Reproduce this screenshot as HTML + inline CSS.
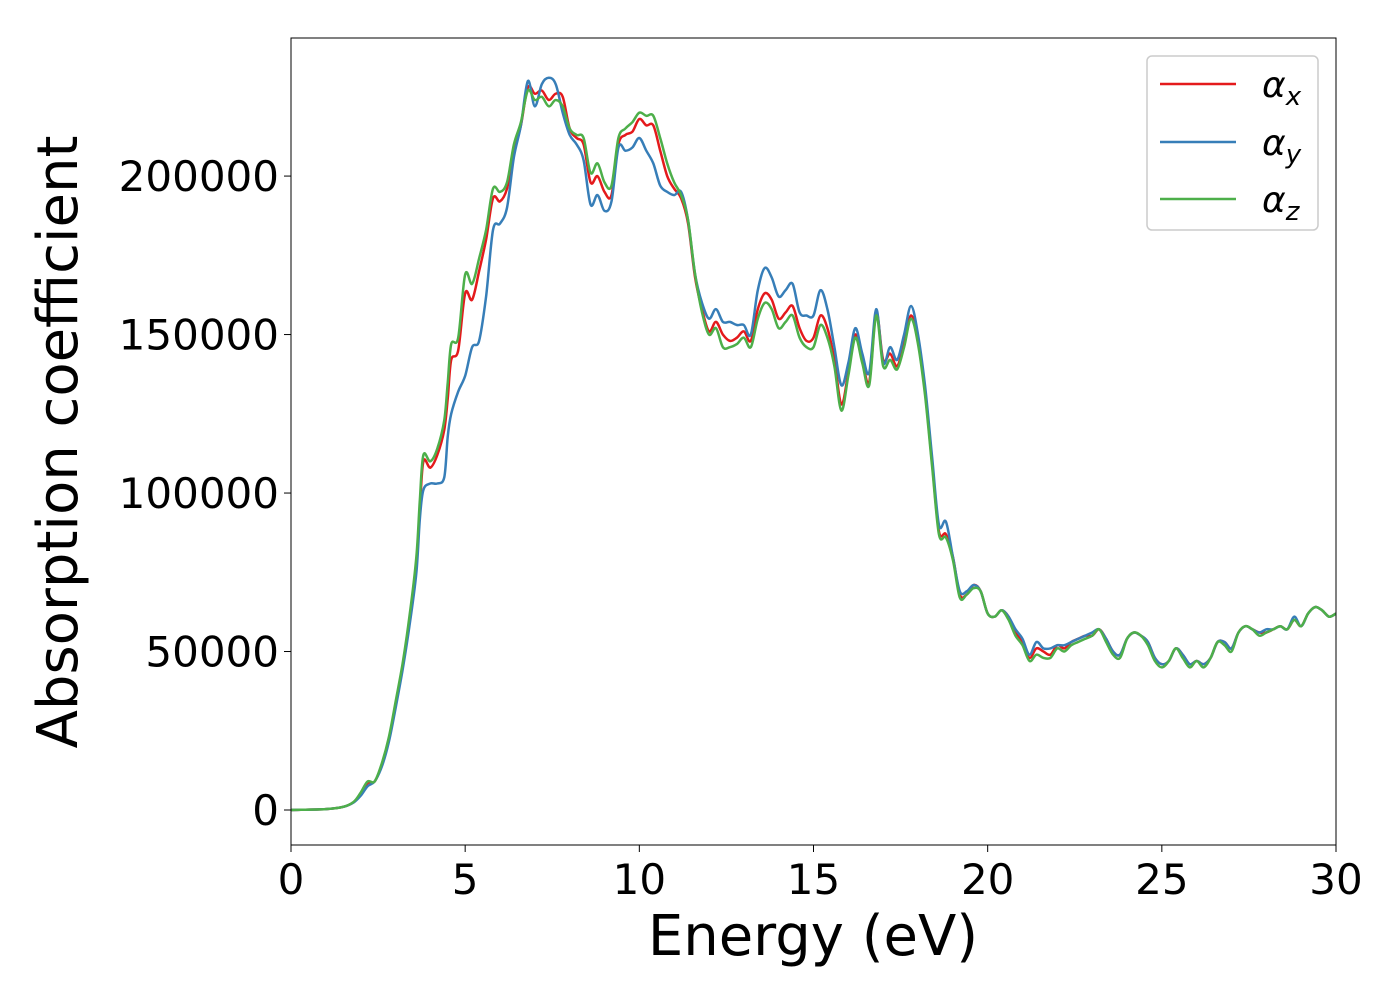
<!DOCTYPE html>
<html><head><meta charset="utf-8"><style>
body{margin:0;background:#fff;}
svg{display:block;font-family:"DejaVu Sans","Liberation Sans",sans-serif;}
</style></head><body>
<svg id="chart" width="1400" height="1000" viewBox="0 0 1400 1000">
<g id="plot"></g>
<g id="axes"></g>
<text x="813" y="955" font-size="56" text-anchor="middle">Energy (eV)</text>
<text transform="translate(77,442) rotate(-90)" font-size="56" text-anchor="middle">Absorption coefficient</text>
<g>
<rect x="1147" y="56" width="171" height="174" rx="5" fill="#fff" stroke="#ccc" stroke-width="1.5"/>
<line x1="1160" y1="84" x2="1236" y2="84" stroke="#e41a1c" stroke-width="2.5"/>
<text x="1262" y="97" font-size="36" font-style="italic">α<tspan font-size="26" dy="8">x</tspan></text>
<line x1="1160" y1="142" x2="1236" y2="142" stroke="#377eb8" stroke-width="2.5"/>
<text x="1262" y="155" font-size="36" font-style="italic">α<tspan font-size="26" dy="8">y</tspan></text>
<line x1="1160" y1="199" x2="1236" y2="199" stroke="#4daf4a" stroke-width="2.5"/>
<text x="1262" y="212" font-size="36" font-style="italic">α<tspan font-size="26" dy="8">z</tspan></text>
</g>
</svg>
<script>
const energy=[0,1,1.5,1.8,2.0,2.2,2.4,2.6,2.8,3.0,3.2,3.4,3.6,3.7,3.8,4.0,4.2,4.4,4.5,4.6,4.8,5.0,5.2,5.4,5.6,5.8,6.0,6.2,6.4,6.6,6.8,7.0,7.2,7.4,7.6,7.8,8.0,8.2,8.4,8.6,8.8,9.0,9.2,9.4,9.6,9.8,10.0,10.2,10.4,10.6,10.8,11.0,11.2,11.4,11.6,11.8,12.0,12.2,12.4,12.6,12.8,13.0,13.2,13.4,13.6,13.8,14.0,14.2,14.4,14.6,14.8,15.0,15.2,15.4,15.6,15.8,16.0,16.2,16.4,16.6,16.8,17.0,17.2,17.4,17.6,17.8,18.0,18.2,18.4,18.6,18.8,19.0,19.2,19.4,19.6,19.8,20.0,20.2,20.4,20.6,20.8,21.0,21.2,21.4,21.6,21.8,22.0,22.2,22.4,22.6,22.8,23.0,23.2,23.4,23.6,23.8,24.0,24.2,24.4,24.6,24.8,25.0,25.2,25.4,25.6,25.8,26.0,26.2,26.4,26.6,26.8,27.0,27.2,27.4,27.6,27.8,28.0,28.2,28.4,28.6,28.8,29.0,29.2,29.4,29.6,29.8,30.0];
const alphaX=[0,300,1000,2500,5000,8500,9000,14000,22000,33000,45000,60000,78000,95000,110000,108000,112000,120000,130000,142000,145000,163000,161000,170000,180000,193000,192000,196000,208000,216000,228000,226000,227000,224000,226000,225000,215000,212000,210000,198000,200000,195000,194000,210000,213000,214000,218000,216000,216000,208000,200000,196000,193000,185000,168000,158000,151000,154000,150000,148000,149000,151000,148000,158000,163000,161000,155000,157000,159000,152000,148000,149000,156000,152000,142000,128000,138000,150000,142000,135000,157000,142000,144000,140000,147000,156000,148000,132000,110000,88000,87000,80000,68000,68000,71000,69000,62000,61000,63000,61000,56000,53000,48000,51000,50000,49000,52000,51000,53000,54000,55000,55000,57000,54000,50000,49000,54000,56000,55000,53000,48000,46000,47000,51000,49000,46000,47000,46000,48000,53000,53000,51000,56000,58000,57000,56000,56000,57000,58000,57000,60000,58000,62000,64000,63000,61000,62000];
const alphaY=[0,300,1000,2400,4500,7500,9000,13500,21000,32000,44000,58000,75000,92000,101000,103000,103000,105000,118000,125000,132000,137000,146000,148000,162000,183000,185000,190000,206000,216000,230000,222000,229000,231000,229000,220000,213000,210000,205000,191000,194000,189000,192000,209000,208000,209000,212000,208000,204000,197000,195000,194000,195000,186000,169000,160000,155000,158000,154000,154000,153000,153000,150000,164000,171000,168000,162000,164000,166000,157000,156000,156000,164000,158000,146000,134000,141000,152000,144000,138000,158000,141000,146000,142000,150000,159000,150000,134000,112000,90000,91000,80000,69000,69000,71000,69000,62000,61000,63000,61000,57000,54000,49000,53000,51000,51000,52000,52000,53000,54000,55000,56000,57000,54000,50000,49000,54000,56000,55000,53000,48000,46000,47000,51000,49000,46000,47000,46000,48000,53000,53000,51000,56000,58000,57000,56000,57000,57000,58000,57000,61000,58000,62000,64000,63000,61000,62000];
const alphaZ=[0,300,1000,2600,5500,9000,9000,14500,22500,34000,46000,61000,80000,98000,112000,110000,114000,123000,135000,147000,149000,169000,166000,174000,183000,196000,195000,198000,210000,217000,227000,224000,225000,222000,224000,222000,215000,213000,212000,201000,204000,198000,197000,212000,215000,217000,220000,219000,219000,212000,204000,198000,194000,186000,169000,157000,150000,152000,146000,146000,147000,149000,146000,155000,160000,158000,152000,154000,156000,149000,146000,146000,153000,149000,140000,126000,137000,149000,141000,134000,156000,140000,142000,139000,146000,155000,147000,131000,109000,87000,86000,79000,67000,68000,70000,69000,62000,61000,63000,60000,55000,52000,47000,49000,48000,48000,51000,50000,52000,53000,54000,55000,57000,53000,49000,48000,54000,56000,55000,52000,47000,45000,47000,51000,48000,45000,47000,45000,48000,53000,52000,50000,56000,58000,57000,55000,56000,57000,58000,57000,60000,58000,62000,64000,63000,61000,62000];
const xTicks=[0,5,10,15,20,25,30];
const yTicks=[0,50000,100000,150000,200000];

const L=291,R=1336,T=38,B=845;
const xMin=0,xMax=30,yMin=-11040,yMax=243560;
const sx=v=>L+(v-xMin)/(xMax-xMin)*(R-L);
const sy=v=>B-(v-yMin)/(yMax-yMin)*(B-T);
const NS="http://www.w3.org/2000/svg";
const plot=document.getElementById('plot'),axes=document.getElementById('axes');
function pathFor(ys){
  const p=energy.map((e,i)=>[sx(e),sy(ys[i])]);
  let d=`M${p[0][0].toFixed(1)},${p[0][1].toFixed(1)}`;
  for(let i=0;i<p.length-1;i++){
    const p0=p[i-1]||p[i],p1=p[i],p2=p[i+1],p3=p[i+2]||p2;
    const c1=[p1[0]+(p2[0]-p0[0])/6,p1[1]+(p2[1]-p0[1])/6];
    const c2=[p2[0]-(p3[0]-p1[0])/6,p2[1]-(p3[1]-p1[1])/6];
    d+=`C${c1[0].toFixed(1)},${c1[1].toFixed(1)} ${c2[0].toFixed(1)},${c2[1].toFixed(1)} ${p2[0].toFixed(1)},${p2[1].toFixed(1)}`;
  }
  return d;
}
const clip=document.createElementNS(NS,'clipPath');clip.id='cp';
const cr=document.createElementNS(NS,'rect');
cr.setAttribute('x',L);cr.setAttribute('y',T);cr.setAttribute('width',R-L);cr.setAttribute('height',B-T);
clip.appendChild(cr);document.getElementById('chart').appendChild(clip);
plot.setAttribute('clip-path','url(#cp)');
[['series-alpha-x',alphaX,'#e41a1c'],['series-alpha-y',alphaY,'#377eb8'],['series-alpha-z',alphaZ,'#4daf4a']].forEach(([n,ys,c])=>{
  const el=document.createElementNS(NS,'path');
  
  
  el.setAttribute('d',pathFor(ys));el.setAttribute('fill','none');el.setAttribute('stroke',c);el.setAttribute('stroke-width','2.5');
  plot.appendChild(el);
});
const frame=document.createElementNS(NS,'rect');


frame.setAttribute('x',L);frame.setAttribute('y',T);frame.setAttribute('width',R-L);frame.setAttribute('height',B-T);
frame.setAttribute('fill','none');frame.setAttribute('stroke','#000');frame.setAttribute('stroke-width','1');
axes.appendChild(frame);
xTicks.forEach(t=>{
  const ln=document.createElementNS(NS,'line');
  
  
  ln.setAttribute('x1',sx(t));ln.setAttribute('x2',sx(t));ln.setAttribute('y1',B);ln.setAttribute('y2',B+7);ln.setAttribute('stroke','#000');
  axes.appendChild(ln);
  const tx=document.createElementNS(NS,'text');
  
  
  tx.setAttribute('x',sx(t));tx.setAttribute('y',B+49);tx.setAttribute('font-size','42');tx.setAttribute('text-anchor','middle');
  tx.textContent=t;axes.appendChild(tx);
});
yTicks.forEach(t=>{
  const ln=document.createElementNS(NS,'line');
  
  
  ln.setAttribute('x1',L-7);ln.setAttribute('x2',L);ln.setAttribute('y1',sy(t));ln.setAttribute('y2',sy(t));ln.setAttribute('stroke','#000');
  axes.appendChild(ln);
  const tx=document.createElementNS(NS,'text');
  
  
  tx.setAttribute('x',L-12);tx.setAttribute('y',sy(t)+15);tx.setAttribute('font-size','42');tx.setAttribute('text-anchor','end');
  tx.textContent=t;axes.appendChild(tx);
});
</script>
</body></html>
